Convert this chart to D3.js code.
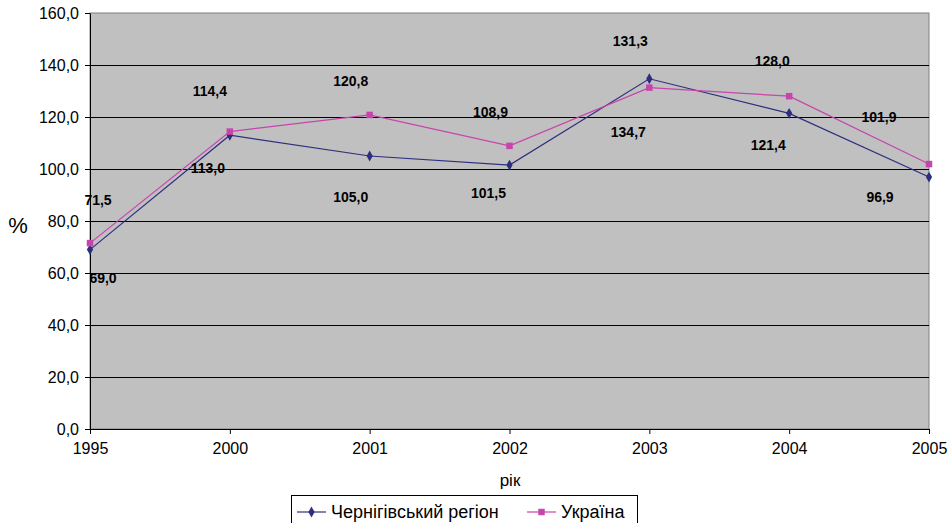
<!DOCTYPE html>
<html>
  <head>
    <meta charset="utf-8" />
    <script src="https://d3js.org/d3.v7.min.js"></script>
    <style>
      body {
        margin: 0;
        background: #fff;
      }
      text {
        font-family: "Liberation Sans", Arial, sans-serif;
      }
      .gridlines line {
        stroke: #000;
        stroke-width: 1px;
      }
      .gridlines path {
        display: none;
      }
      .axis path,
      .axis line {
        stroke: #000;
      }
      .axis text {
        font-size: 16px;
        fill: #000;
      }
      .label {
        font-size: 14px;
        font-weight: bold;
      }
    </style>
  </head>
  <body>
    <svg width="952" height="523" id="chart"></svg>
    <script>
      // data
      const years = ["1995", "2000", "2001", "2002", "2003", "2004", "2005"];
      const chernihiv = [69.0, 113.0, 105.0, 101.5, 134.7, 121.4, 96.9];
      const ukraine = [71.5, 114.4, 120.8, 108.9, 131.3, 128.0, 101.9];
      const yTicks = [0, 20, 40, 60, 80, 100, 120, 140, 160];

      // label offsets from the point (as the original excel layout had them)
      const chLabelDx = [13, -22, -19, -21, -21, -21, -49];
      const chLabelDy = [28, 33, 41, 28, 53, 32, 20];
      const ukLabelDx = [8, -20, -19, -19, -19, -17, -50];
      const ukLabelDy = [-43, -41, -34, -34, -47, -35, -47];

      const svg = d3.select("svg#chart");
      const margin = { top: 13, right: 23, bottom: 94, left: 90 };
      const width = 952 - margin.left - margin.right;
      const height = 523 - margin.top - margin.bottom;

      const chart = svg
        .append("g")
        .attr("transform", `translate(${margin.left},${margin.top})`);

      const xScale = d3.scalePoint().domain(years).range([0, width]);
      const yScale = d3.scaleLinear().domain([0, 160]).range([height, 0]);

      chart
        .append("rect")
        .attr("width", width)
        .attr("height", height)
        .attr("fill", "#c0c0c0")
        .attr("stroke", "#808080")
        .attr("stroke-width", 1);

      chart
        .append("g")
        .attr("class", "gridlines")
        .call(d3.axisLeft(yScale).tickValues(yTicks.slice(1, -1)).tickSize(-width).tickFormat(""));

      const fmt = (d) => d3.format(".1f")(d).replace(".", ",");

      chart
        .append("g")
        .attr("class", "axis")
        .call(d3.axisLeft(yScale).tickValues(yTicks).tickSize(5).tickSizeOuter(0).tickPadding(6).tickFormat(fmt));

      chart
        .append("g")
        .attr("class", "axis")
        .attr("transform", `translate(0,${height})`)
        .call(d3.axisBottom(xScale).tickSize(5).tickSizeOuter(0).tickPadding(9));

      const series = [
        { name: "Чернігівський регіон", values: chernihiv, color: "#2e2e80", symbol: d3.symbolDiamond, size: 34, dx: chLabelDx, dy: chLabelDy },
        { name: "Україна", values: ukraine, color: "#c644ac", symbol: d3.symbolSquare, size: 42, dx: ukLabelDx, dy: ukLabelDy },
      ];

      const line = d3
        .line()
        .x((d, i) => xScale(years[i]))
        .y((d) => yScale(d));

      series.forEach((s) => {
        chart
          .append("path")
          .datum(s.values)
          .attr("fill", "none")
          .attr("stroke", s.color)
          .attr("stroke-width", 1.2)
          .attr("d", line);

        chart
          .selectAll(null)
          .data(s.values)
          .join("path")
          .attr("transform", (d, i) => `translate(${xScale(years[i])},${yScale(d)})`)
          .attr("d", d3.symbol().type(s.symbol).size(s.size))
          .attr("fill", s.color);
      });

      series.forEach((s) => {
        chart
          .selectAll(null)
          .data(s.values)
          .join("text")
          .attr("class", "label")
          .attr("x", (d, i) => xScale(years[i]) + s.dx[i])
          .attr("y", (d, i) => yScale(d) + s.dy[i])
          .attr("text-anchor", "middle")
          .attr("dominant-baseline", "central")
          .text(fmt);
      });

      // axis titles
      svg
        .append("text")
        .attr("x", 18)
        .attr("y", 233)
        .attr("text-anchor", "middle")
        .attr("font-size", "22px")
        .text("%");

      svg
        .append("text")
        .attr("x", 510)
        .attr("y", 486)
        .attr("text-anchor", "middle")
        .attr("font-size", "17px")
        .text("рік");

      // legend
      const legend = svg.append("g").attr("transform", "translate(291,495)");
      legend
        .append("rect")
        .attr("x", 0.5)
        .attr("y", 0.5)
        .attr("width", 346)
        .attr("height", 40)
        .attr("fill", "#fff")
        .attr("stroke", "#000");

      const legendX = [6, 236];
      series.forEach((s, i) => {
        const g = legend.append("g").attr("transform", `translate(${legendX[i]},17)`);
        g.append("line").attr("x1", 0).attr("x2", 29).attr("stroke", s.color).attr("stroke-width", 1.2);
        g.append("path")
          .attr("transform", "translate(14.5,0)")
          .attr("d", d3.symbol().type(s.symbol).size(s.size))
          .attr("fill", s.color);
        g.append("text")
          .attr("x", 34)
          .attr("y", 0)
          .attr("dominant-baseline", "central")
          .attr("font-size", "18px")
          .text(s.name);
      });
    </script>
  </body>
</html>
